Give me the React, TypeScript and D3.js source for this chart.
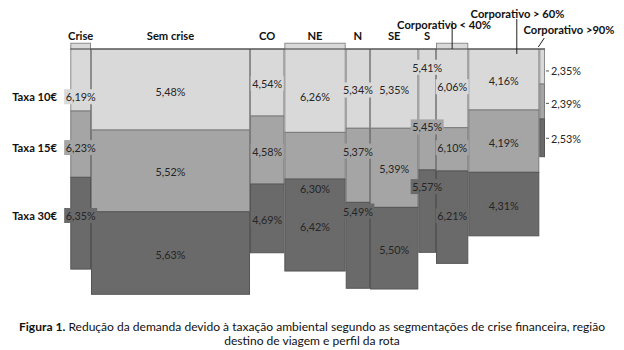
import React from "react";
import * as d3 from "d3";

// segments (columns of the mosaic)
const segments = ["Crise", "Sem crise", "CO", "NE", "N", "SE", "S", "Corporativo < 40%", "Corporativo > 60%", "Corporativo >90%"];
// column widths (share of the total)
const shares = [4.36, 33.5, 7.23, 12.93, 5.12, 10.17, 3.73, 6.8, 14.96, 1.2];
const taxas = ["Taxa 10€", "Taxa 15€", "Taxa 30€"];

// demand reduction, %
const reducao10 = [6.19, 5.48, 4.54, 6.26, 5.34, 5.35, 5.41, 6.06, 4.16, 2.35];
const reducao15 = [6.23, 5.52, 4.58, 6.3, 5.37, 5.39, 5.45, 6.1, 4.19, 2.39];
const reducao30 = [6.35, 5.63, 4.69, 6.42, 5.49, 5.5, 5.57, 6.21, 4.31, 2.53];

// block edges per column, in the same units (top, 10/15, 15/30, bottom)
const blocoInicio = [-0.39, 0, 0, -0.39, 0, 0, 0, -0.39, 0, 0];
const corte1 = [4.21, 5.5, 4.55, 5.66, 5.38, 5.38, 4.85, 5.34, 4.14, 2.38];
const corte2 = [8.71, 11.05, 9.17, 8.83, 10.41, 10.75, 8.21, 8.28, 8.37, 4.75];
const blocoFim = [14.94, 16.65, 13.83, 15.07, 16.24, 16.29, 13.8, 14.55, 12.68, 7.31];

// where each value label sits (same units)
const rotulo10 = [3.24, 2.9, 2.33, 3.24, 2.78, 2.78, 1.24, 2.56, 2.15, 1.49];
const rotulo15 = [6.69, 8.33, 6.93, 9.5, 6.93, 8.1, 5.29, 6.7, 6.33, 3.69];
const rotulo30 = [11.3, 13.94, 11.54, 12.06, 11.0, 13.58, 9.34, 11.32, 10.59, 6.06];

const caption1 = " Redução da demanda devido à taxação ambiental segundo as segmentações de crise financeira, região";
const caption2 = "destino de viagem e perfil da rota";

const fills = ["#d9d9d9", "#a5a5a5", "#6a6a6a"];
const strokes = ["#8c8c8c", "#7a7a7a", "#555555"];
const FONT = "Lato, 'Open Sans', sans-serif";

let ctx: CanvasRenderingContext2D | null = null;
const textWidth = (t: string, font: string) => {
    if (!ctx) ctx = document.createElement("canvas").getContext("2d");
    ctx!.font = font;
    return ctx!.measureText(t).width;
};
// font size that makes `t` about `target` px wide
const fitSize = (t: string, weight: string, target: number) =>
    (11 * target) / textWidth(t, `${weight} 11px ${FONT}`);

const fmt = (v: number) => d3.format(".2f")(v).replace(".", ",") + "%";

const App = () => {
    const width = 624;
    const height = 350;

    const edges = Array.from(d3.cumsum([0, ...shares]));
    const x = d3.scaleLinear().domain([0, d3.sum(shares)]).range([70.3, 545]);
    const y = d3.scaleLinear().domain([0, 16.65]).range([49, 294.3]);

    const values = [reducao10, reducao15, reducao30];
    const cuts = [blocoInicio, corte1, corte2, blocoFim];
    const labelAt = [rotulo10, rotulo15, rotulo30];

    const valSize = fitSize("6,19%", "normal", 30);
    const headSize = fitSize("Sem crise", "bold", 47.5);
    const capSize = fitSize(caption2, "normal", 176);
    const valueFont = `${valSize}px ${FONT}`;
    const last = segments.length - 1;

    // colour under a label: whichever block holds it
    const fillAt = (c: number, u: number) => {
        let k = 0;
        for (let r = 0; r < 3; r++) if (u >= cuts[r][c]) k = r;
        return fills[k];
    };

    const annotations = [
        { col: 7, tx: 444, ty: 24.5, x1: 0, y1: 21, x2: 0, y2: 49 },
        { col: 8, tx: 517.5, ty: 13, x1: 13, y1: 19, x2: 13, y2: 54 },
        { col: 9, tx: 569, ty: 29, x1: -1, y1: 47, x2: 5, y2: 38 },
    ];

    return (
        <svg
            width={width}
            height={height}
            style={{ position: "absolute", left: 0, top: 0, background: "#fff" }}
        >
            {segments.map((s, c) => (
                <g key={s}>
                    {values.map((v, r) => (
                        <rect
                            key={r}
                            x={x(edges[c]) + 0.5}
                            y={y(cuts[r][c])}
                            width={x(edges[c + 1]) - x(edges[c]) - 1}
                            height={y(cuts[r + 1][c]) - y(cuts[r][c])}
                            fill={fills[r]}
                            stroke={strokes[r]}
                            strokeWidth={1}
                        />
                    ))}
                </g>
            ))}

            {/* top rule */}
            <line x1={x(0)} x2={x(d3.sum(shares))} y1={49} y2={49} stroke="#3a3a3a" strokeWidth={1.2} />

            {/* value labels */}
            {segments.map((s, c) =>
                values.map((v, r) => {
                    const t = fmt(v[c]);
                    const ly = y(labelAt[r][c]);
                    if (c === last) {
                        const x0 = x(edges[c + 1]);
                        return (
                            <g key={`${c}-${r}`}>
                                <line x1={x0 + 1} x2={x0 + 4} y1={ly} y2={ly} stroke="#555" />
                                <text x={x0 + 6} y={ly} dominantBaseline="central" fontFamily={FONT} fontSize={valSize} fill="#262626">
                                    {t}
                                </text>
                            </g>
                        );
                    }
                    const cx = (x(edges[c]) + x(edges[c + 1])) / 2;
                    const w = textWidth(t, valueFont) + 3;
                    return (
                        <g key={`${c}-${r}`}>
                            <rect x={cx - w / 2} y={ly - 7.5} width={w} height={15} fill={fillAt(c, labelAt[r][c])} />
                            <text x={cx} y={ly} textAnchor="middle" dominantBaseline="central" fontFamily={FONT} fontSize={valSize} fill="#262626">
                                {t}
                            </text>
                        </g>
                    );
                })
            )}

            {/* row labels */}
            {taxas.map((t, r) => (
                <text key={t} x={57} y={y(labelAt[r][0])} textAnchor="end" dominantBaseline="central" fontFamily={FONT} fontWeight="bold" fontSize={headSize} fill="#111">
                    {t}
                </text>
            ))}

            {/* column headers */}
            {segments.slice(0, 7).map((s, c) => (
                <text key={s} x={(x(edges[c]) + x(edges[c + 1])) / 2} y={35} textAnchor="middle" dominantBaseline="central" fontFamily={FONT} fontWeight="bold" fontSize={headSize} fill="#111">
                    {s}
                </text>
            ))}

            {annotations.map((a) => {
                const ax = a.col === 9 ? x(edges[a.col]) : (x(edges[a.col]) + x(edges[a.col + 1])) / 2;
                return (
                    <g key={a.col}>
                        <line x1={ax + a.x1} y1={a.y1} x2={ax + a.x2} y2={a.y2} stroke="#222" strokeWidth={1} />
                        <text x={a.tx} y={a.ty} textAnchor="middle" dominantBaseline="central" fontFamily={FONT} fontWeight="bold" fontSize={headSize} fill="#111">
                            {segments[a.col]}
                        </text>
                    </g>
                );
            })}

            {/* caption */}
            <text x={312} y={326} textAnchor="middle" dominantBaseline="central" fontFamily={FONT} fontSize={capSize} fill="#111">
                <tspan fontWeight="bold">Figura 1.</tspan>
                {caption1}
            </text>
            <text x={312} y={340} textAnchor="middle" dominantBaseline="central" fontFamily={FONT} fontSize={capSize} fill="#111">
                {caption2}
            </text>
        </svg>
    );
};

export default App;
